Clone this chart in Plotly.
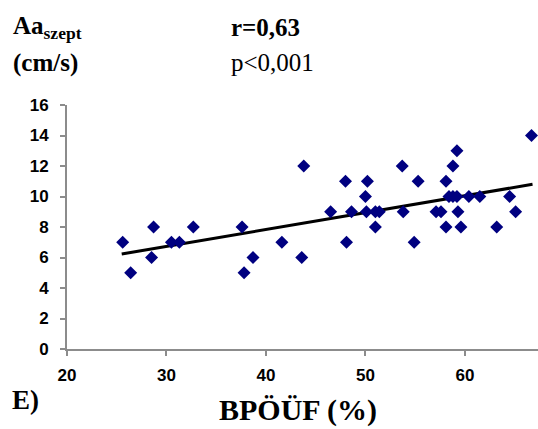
import plotly.graph_objects as go

# Data
bpouf = [25.6, 26.4, 28.7, 28.5, 30.5, 31.3, 32.7, 37.6, 37.8, 38.7, 41.6, 43.6, 43.8,
         46.5, 48.0, 48.1, 48.6, 50.2, 50.0, 50.1, 51.0, 51.4, 51.0, 53.7, 53.8, 54.9,
         55.3, 57.1, 57.6, 58.1, 58.1, 58.4, 58.8, 59.2, 58.8, 59.2, 59.3, 59.6, 60.4,
         61.5, 63.2, 64.5, 65.1, 66.7]
aa_szept = [7, 5, 8, 6, 7, 7, 8, 8, 5, 6, 7, 6, 12,
            9, 11, 7, 9, 11, 10, 9, 9, 9, 8, 12, 9, 7,
            11, 9, 9, 11, 8, 10, 12, 13, 10, 10, 9, 8, 10,
            10, 8, 10, 9, 14]
fit_x = [25.5, 66.8]
fit_y = [6.23, 10.80]
x_ticks = [20, 30, 40, 50, 60]
y_ticks = [0, 2, 4, 6, 8, 10, 12, 14, 16]

W, H = 538, 429
L, R, T, B = 67, 0, 105, 80
pw, ph = W - L - R, H - T - B

def px(x):
    return (x - L) / pw

def py(y):
    return (H - B - y) / ph

fig = go.Figure()
fig.add_trace(go.Scatter(x=fit_x, y=fit_y, mode="lines",
                         line=dict(color="black", width=3), hoverinfo="skip"))
fig.add_trace(go.Scatter(x=bpouf, y=aa_szept, mode="markers",
                         marker=dict(symbol="diamond", size=10, color="#000080")))

axis_common = dict(showgrid=False, zeroline=False, showline=True,
                   linecolor="#8c8c8c", linewidth=2, ticks="outside",
                   tickcolor="#8c8c8c", ticklen=5, tickwidth=1.5,
                   tickfont=dict(family="Liberation Sans", size=17, color="black", weight="bold"))

fig.update_layout(
    width=W, height=H, margin=dict(l=L, r=R, t=T, b=B),
    paper_bgcolor="white", plot_bgcolor="white", showlegend=False,
    xaxis=dict(range=[20, 67.35], tickvals=x_ticks, ticklabelstandoff=5, **axis_common),
    yaxis=dict(range=[0, 16], tickvals=y_ticks, ticklabelstandoff=8, **axis_common),
)

serif = "Liberation Serif"
ann = [
    dict(text="<b>Aa<sub>szept</sub></b>", x=px(11), y=py(28), size=25),
    dict(text="<b>(cm/s)</b>", x=px(11), y=py(63), size=25),
    dict(text="<b>r=0,63</b>", x=px(229), y=py(28), size=25),
    dict(text="p&lt;0,001", x=px(229), y=py(63), size=25),
    dict(text="<b>E)</b>", x=px(10), y=py(400), size=27),
]
for a in ann:
    fig.add_annotation(text=a["text"], x=a["x"], y=a["y"], xref="paper", yref="paper",
                       xanchor="left", yanchor="middle", showarrow=False,
                       font=dict(family=serif, size=a["size"], color="black"))
fig.add_annotation(text="<b>BPÖÜF (%)</b>", x=px(298), y=py(410), xref="paper", yref="paper",
                   xanchor="center", yanchor="middle", showarrow=False,
                   font=dict(family=serif, size=30, color="black"))

fig.write_html("out.html", config={"displayModeBar": False},
               post_script="document.body.style.margin='0';")
